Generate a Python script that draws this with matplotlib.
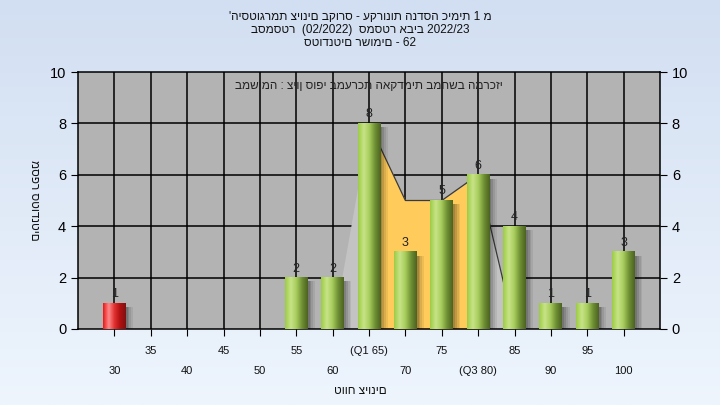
import matplotlib
matplotlib.use("Agg")
import matplotlib.pyplot as plt
import numpy as np
from matplotlib.colors import LinearSegmentedColormap
from matplotlib.patches import Rectangle

plt.rcParams['font.family'] = ['Liberation Sans', 'DejaVu Sans']

# ---- data ----
categories = ["30", "35", "40", "45", "50", "55", "60", "(Q1 65)", "70", "75",
              "(Q3 80)", "85", "90", "95", "100"]
counts = [1, 0, 0, 0, 0, 2, 2, 8, 3, 5, 6, 4, 1, 1, 3]
failed = [True] + [False] * 14
area_idx = [6, 7, 8, 9, 10, 11]
area_vals = [0, 8, 5, 5, 6, 0]
q1_idx, q3_idx = 7, 10
title_lines = ["'היסטוגרמת ציונים בקורס - עקרונות הנדסה כימית 1 מ",
               "בסמסטר  (02/2022)  סמסטר אביב 2022/23",
               "סטודנטים רשומים - 62"]
note = "במשימה : ציון סופי במערכת האקדמית במחשב המרכזי"
xlabel = "טווח ציונים"
ylabel = "מספר סטודנטים"

fig = plt.figure(figsize=(7.2, 4.05), dpi=100)

# background gradient
bg = fig.add_axes([0, 0, 1, 1], zorder=-10)
grad = np.linspace(0, 1, 256).reshape(-1, 1)
bgcmap = LinearSegmentedColormap.from_list("bg", ["#d2dff2", "#eef5fd"])
bg.imshow(grad, aspect='auto', cmap=bgcmap, extent=[0, 1, 0, 1])
bg.axis('off')

ax = fig.add_axes([78/720, 1-329/405, (660-78)/720, (329-72)/405])
ax.set_facecolor("#b3b3b3")
n = len(categories)

# grid
for i in range(n):
    ax.axvline(i, color="black", lw=1.1, zorder=1)
for yv in [2, 4, 6, 8]:
    ax.axhline(yv, color="black", lw=1.1, zorder=1)

# area
ax_x = np.array(area_idx, dtype=float)
ax_y = np.array(area_vals, dtype=float)
ax.fill_between(ax_x, 0, ax_y, color="#c3c3c3", lw=0, zorder=2)
mask = (ax_x >= q1_idx) & (ax_x <= q3_idx)
ax.fill_between(ax_x[mask], 0, ax_y[mask], color="#ffcb5a", lw=0, zorder=2.1)
ax.plot(ax_x[1:], ax_y[1:], color="#3a3a3a", lw=0.9, zorder=2.2)

# bars with cylinder gradient
green = LinearSegmentedColormap.from_list(
    "g", ["#9ccc45", "#c8e488", "#a6cc5c", "#6f8f34", "#4b6320"])
red = LinearSegmentedColormap.from_list(
    "r", ["#e81818", "#ff8a8a", "#e03030", "#b01010", "#801010"])
bw = 0.63
hgrad = np.linspace(0, 1, 64).reshape(1, -1)
for i, v in enumerate(counts):
    if v <= 0:
        continue
    x0 = i - bw / 2
    # shadow
    for k, a in enumerate([0.35, 0.25, 0.15, 0.07]):
        ax.add_patch(Rectangle((x0 + bw + k * 0.05, 0), 0.05, max(v - 0.15, 0),
                               color="black", alpha=a, lw=0, zorder=2.5))
    ax.imshow(hgrad, aspect='auto', cmap=red if failed[i] else green,
              extent=[x0, x0 + bw, 0, v], zorder=3, interpolation='bilinear')
    ax.text(i, v + 0.12, str(v), ha='center', va='bottom', fontsize=9,
            color="#222222", zorder=4)
ax.set_xlim(-1, n)
ax.set_ylim(0, 10)

# axes styling
for s in ax.spines.values():
    s.set_color("black")
    s.set_linewidth(1.1)
ax.set_yticks(range(0, 11, 2))
ax.tick_params(axis='y', which='both', left=True, right=True, labelleft=True,
               labelright=True, direction='out', length=5, labelsize=10.5,
               colors="black")
ax.set_xticks(range(n))
ax.set_xticklabels([])
ax.tick_params(axis='x', direction='out', length=5)
for i, lab in enumerate(categories):
    yoff = -0.085 if i % 2 == 1 else -0.165
    ax.text(i, yoff, lab, transform=ax.get_xaxis_transform(), ha='center',
            va='center', fontsize=8, color="#111111")

ax.text(0.5, 0.945, note, transform=ax.transAxes, ha='center', va='center',
        fontsize=8.5, color="#222222", zorder=5)

fig.text(0.5, 1-391/405, xlabel, ha='center', va='center', fontsize=8.5,
         color="#111111")
fig.text(34/720, 1-200/405, ylabel, ha='center', va='center', fontsize=8.5,
         rotation=270, color="#111111")
for k, line in enumerate(title_lines):
    fig.text(0.5, 1-(17+13*k)/405, line, ha='center', va='center',
             fontsize=8.5, color="#111111")

fig.savefig("out.png", dpi=100)
